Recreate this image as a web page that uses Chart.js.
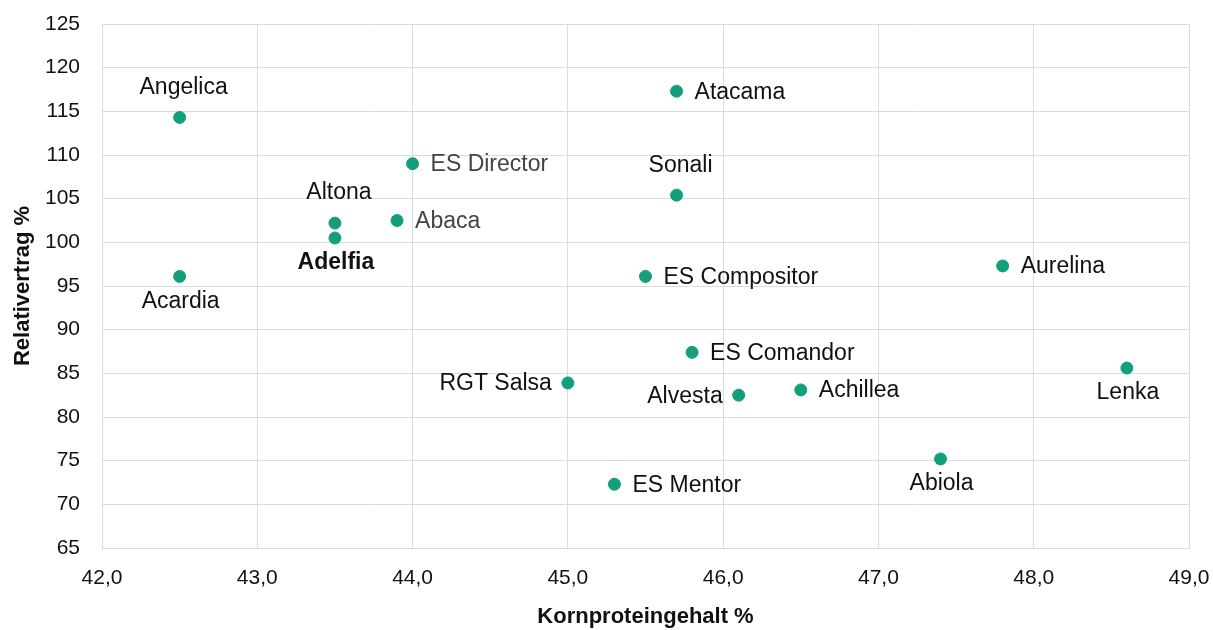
<!DOCTYPE html>
<html>
<head>
<meta charset="utf-8">
<script src="https://cdn.jsdelivr.net/npm/chart.js@4"></script>
<style>
  html, body { margin: 0; padding: 0; background: #fff; }
  #wrap { width: 1213px; height: 630px; }
</style>
</head>
<body>
<div id="wrap"><canvas id="scatterChart"></canvas></div>
<script>
// Sorten: Kornproteingehalt (%) vs. Relativertrag (%)
var sorten = ['Angelica', 'Acardia', 'Altona', 'Adelfia', 'Abaca', 'ES Director', 'Atacama', 'Sonali',
    'ES Compositor', 'ES Comandor', 'RGT Salsa', 'Alvesta', 'Achillea', 'ES Mentor', 'Abiola', 'Aurelina', 'Lenka'];
var protein = [42.5, 42.5, 43.5, 43.5, 43.9, 44.0, 45.7, 45.7, 45.5, 45.8, 45.0, 46.1, 46.5, 45.3, 47.4, 47.8, 48.6];
var ertrag = [114.3, 96.1, 102.2, 100.5, 102.5, 109.0, 117.3, 105.4, 96.1, 87.4, 83.9, 82.5, 83.1, 72.3, 75.2, 97.3, 85.6];
// where the name sits next to its point
var labelPos = ['top', 'bottom', 'top', 'bottom', 'right', 'right', 'right', 'top',
    'right', 'right', 'left', 'left', 'right', 'right', 'bottom', 'right', 'bottom'];
var yTicks = [65, 70, 75, 80, 85, 90, 95, 100, 105, 110, 115, 120, 125];
var xTicks = [42, 43, 44, 45, 46, 47, 48, 49];

var FONT = '"Liberation Sans", Arial, Helvetica, sans-serif';
var greyNames = ['ES Director', 'Abaca'];
var boldNames = ['Adelfia'];

var points = protein.map(function (p, i) { return { x: p, y: ertrag[i] }; });

// draws the variety names beside the dots
var nameLabels = {
    id: 'nameLabels',
    afterDatasetsDraw: function (chart) {
        var ctx = chart.ctx;
        var meta = chart.getDatasetMeta(0);
        ctx.save();
        meta.data.forEach(function (el, i) {
            var name = sorten[i];
            var pos = labelPos[i];
            ctx.font = (boldNames.indexOf(name) >= 0 ? 'bold ' : '') + '23px ' + FONT;
            ctx.fillStyle = greyNames.indexOf(name) >= 0 ? '#444444' : '#111111';
            ctx.textBaseline = 'middle';
            var x = el.x, y = el.y;
            if (pos === 'top') {
                ctx.textAlign = 'center';
                ctx.fillText(name, x + 4, y - 30);
            } else if (pos === 'bottom') {
                ctx.textAlign = 'center';
                ctx.fillText(name, x + 1, y + 25);
            } else if (pos === 'right') {
                ctx.textAlign = 'left';
                ctx.fillText(name, x + 18, y + 1);
            } else {
                ctx.textAlign = 'right';
                ctx.fillText(name, x - 16, y + 1);
            }
        });
        ctx.restore();
    }
};

var canvas = document.getElementById('scatterChart');
new Chart(canvas.getContext('2d'), {
    type: 'scatter',
    data: {
        datasets: [{
            label: 'Sorten',
            data: points,
            backgroundColor: '#139f7b',
            borderColor: '#139f7b',
            pointRadius: 6,
            pointHoverRadius: 6
        }]
    },
    options: {
        responsive: true,
        maintainAspectRatio: false,
        animation: false,
        layout: { padding: { top: 24, right: 24, left: 0, bottom: 0 } },
        plugins: {
            legend: { display: false },
            tooltip: { enabled: false }
        },
        scales: {
            x: {
                type: 'linear',
                min: 42,
                max: 49,
                afterBuildTicks: function (axis) {
                    axis.ticks = xTicks.map(function (v) { return { value: v }; });
                },
                afterFit: function (axis) {
                    axis.height = 82;
                    axis.paddingLeft = 0;
                    axis.paddingRight = 0;
                },
                grid: { color: '#dcdcdc', lineWidth: 1, drawTicks: false },
                border: { color: '#dcdcdc' },
                ticks: {
                    padding: 18,
                    color: '#111',
                    font: { family: FONT, size: 21 },
                    callback: function (v) { return v.toFixed(1).replace('.', ','); }
                },
                title: {
                    display: true,
                    text: 'Kornproteingehalt %',
                    color: '#111',
                    font: { family: FONT, size: 22, weight: 'bold' },
                    padding: { top: 0, bottom: 0 }
                }
            },
            y: {
                type: 'linear',
                min: 65,
                max: 125,
                afterBuildTicks: function (axis) {
                    axis.ticks = yTicks.map(function (v) { return { value: v }; });
                },
                afterFit: function (axis) {
                    axis.width = 102;
                    axis.paddingTop = 0;
                    axis.paddingBottom = 0;
                },
                grid: { color: '#dcdcdc', lineWidth: 1, drawTicks: false },
                border: { color: '#dcdcdc' },
                ticks: {
                    padding: 22,
                    color: '#111',
                    font: { family: FONT, size: 21 }
                },
                title: {
                    display: true,
                    text: 'Relativertrag %',
                    color: '#111',
                    font: { family: FONT, size: 22, weight: 'bold' },
                    padding: { top: 10, bottom: 0 }
                }
            }
        }
    },
    plugins: [nameLabels]
});
</script>
</body>
</html>
